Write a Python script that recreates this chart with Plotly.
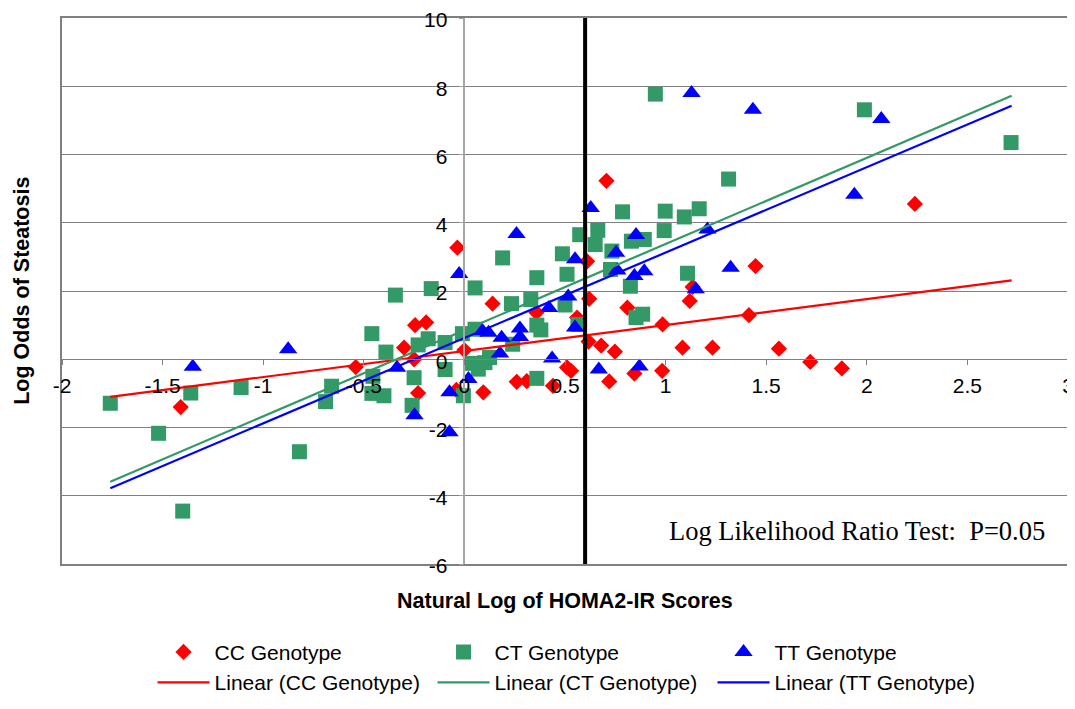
import plotly.graph_objects as go

# ---------------- data ----------------
cc_x = [-1.41, -0.54, -0.30, -0.25, -0.245, -0.19, -0.23, -0.035, -0.04, 0.00,
        0.094, 0.14, 0.26, 0.31, 0.358, 0.44, 0.51, 0.53, 0.56, 0.61,
        0.62, 0.617, 0.68, 0.748, 0.706, 0.72, 0.81, 0.845, 0.983, 0.985,
        1.084, 1.12, 1.134, 1.233, 1.414, 1.447, 1.563, 1.719, 1.876, 2.239]
cc_y = [-1.40, -0.23, 0.34, 0.00, 1.00, 1.08, -0.99, 3.27, -0.90, 0.27,
        -0.97, 1.63, -0.66, -0.64, 1.37, -0.78, -0.24, -0.34, 1.22, 2.87,
        1.77, 0.52, 0.40, 0.22, 5.23, -0.65, 1.51, -0.42, -0.34, 1.02,
        0.34, 1.71, 2.12, 0.34, 1.29, 2.73, 0.31, -0.08, -0.27, 4.55]

ct_x = [-1.76, -1.52, -1.40, -1.36, -1.11, -0.82, -0.66, -0.69, -0.46, -0.39,
        -0.455, -0.46, -0.40, -0.343, -0.25, -0.26, -0.165, -0.23, -0.18, -0.096,
        -0.01, 0.053, -0.096, -0.005, 0.036, 0.069, 0.102, 0.125, 0.053, 0.19,
        0.234, 0.33, 0.36, 0.24, 0.36, 0.36, 0.38, 0.50, 0.51, 0.487,
        0.564, 0.573, 0.65, 0.663, 0.726, 0.733, 0.786, 0.825, 0.83, 0.894,
        0.853, 0.886, 0.949, 0.993, 0.998, 1.093, 1.167, 1.109, 1.313, 1.988,
        2.717]
ct_y = [-1.29, -2.17, -4.45, -0.99, -0.83, -2.71, -0.79, -1.24, 0.75, 0.21,
        -0.50, -1.00, -1.07, 1.88, -0.54, -1.35, 2.07, 0.42, 0.60, 0.49,
        0.75, 0.88, -0.30, -1.07, -0.12, -0.29, -0.10, 0.05, 2.09, 2.97,
        1.63, 1.75, 2.39, 0.44, -0.56, 1.00, 0.86, 1.59, 2.49, 3.09,
        1.02, 3.65, 3.36, 3.78, 2.63, 3.17, 4.32, 2.14, 3.46, 3.51,
        1.22, 1.32, 7.77, 3.77, 4.34, 4.17, 4.41, 2.52, 5.28, 7.31,
        6.35]

tt_x = [-1.35, -0.876, -0.335, -0.248, -0.074, -0.074, -0.026, 0.02, 0.09, 0.12,
        0.185, 0.177, 0.276, 0.276, 0.259, 0.42, 0.436, 0.516, 0.55, 0.55,
        0.628, 0.668, 0.754, 0.76, 0.845, 0.894, 0.853, 0.87, 1.129, 1.15,
        1.208, 1.323, 1.434, 1.938, 2.072]
tt_y = [-0.22, 0.29, -0.25, -1.64, -0.97, -2.14, 2.50, -0.58, 0.83, 0.78,
        0.63, 0.17, 0.90, 0.65, 3.67, 1.50, 0.02, 1.84, 0.93, 2.93,
        4.43, -0.30, 3.12, 2.60, 2.44, 2.58, 3.64, -0.21, 7.80, 2.05,
        3.80, 2.68, 7.31, 4.82, 7.04]

# linear trend lines (end points)
trend_x = [-1.76, 2.72]
cc_trend_y = [-1.10, 2.31]
ct_trend_y = [-3.59, 7.72]
tt_trend_y = [-3.78, 7.43]

cutoff_x = 0.6

x_ticks = [-2, -1.5, -1, -0.5, 0, 0.5, 1, 1.5, 2, 2.5, 3]
x_tick_labels = ["-2", "-1.5", "-1", "-0.5", "0", "0.5", "1", "1.5", "2", "2.5", "3"]
y_ticks = [-6, -4, -2, 0, 2, 4, 6, 8, 10]
y_tick_labels = ["-6", "-4", "-2", "0", "2", "4", "6", "8", "10"]

x_range = [-2, 3]
y_range = [-6, 10]

# ---------------- styling ----------------
RED = "#FF0000"
GREEN = "#339966"
BLUE = "#0000FF"
SANS = "Liberation Sans, Arial, sans-serif"
SERIF = "Liberation Serif, Times New Roman, serif"

fig = go.Figure()

fig.add_trace(go.Scatter(x=cc_x, y=cc_y, mode="markers", name="CC Genotype",
                         marker=dict(symbol="diamond", size=12.5, color=RED)))
fig.add_trace(go.Scatter(x=ct_x, y=ct_y, mode="markers", name="CT Genotype",
                         marker=dict(symbol="square", size=15, color=GREEN)))
fig.add_trace(go.Scatter(x=tt_x, y=tt_y, mode="markers", name="TT Genotype",
                         marker=dict(symbol="triangle-up", size=16, color=BLUE)))

fig.add_trace(go.Scatter(x=trend_x, y=cc_trend_y, mode="lines", name="Linear (CC Genotype)",
                         line=dict(color=RED, width=2.2)))
fig.add_trace(go.Scatter(x=trend_x, y=ct_trend_y, mode="lines", name="Linear (CT Genotype)",
                         line=dict(color=GREEN, width=2.2)))
fig.add_trace(go.Scatter(x=trend_x, y=tt_trend_y, mode="lines", name="Linear (TT Genotype)",
                         line=dict(color=BLUE, width=2.2)))

# empty helper traces so the crossing axes (through the origin) are drawn
fig.add_trace(go.Scatter(x=[None], y=[None], xaxis="x2", yaxis="y", showlegend=False,
                         hoverinfo="skip", mode="markers"))
fig.add_trace(go.Scatter(x=[None], y=[None], xaxis="x", yaxis="y2", showlegend=False,
                         hoverinfo="skip", mode="markers"))

tickfont = dict(family=SANS, size=21, color="black")

# the page body adds an 8px offset, so the figure is 8px smaller than the window
fig.update_layout(
    template="none",
    width=1067, height=701,
    margin=dict(l=54, r=7, t=10, b=144),
    plot_bgcolor="white", paper_bgcolor="white",
    showlegend=True,
    xaxis=dict(range=x_range, showgrid=False, zeroline=False, showticklabels=False,
               ticks="", showline=True, mirror=True, linecolor="#808080", linewidth=2,
               automargin=False),
    yaxis=dict(range=y_range, tickvals=y_ticks, showgrid=True, gridcolor="#808080",
               gridwidth=1, zeroline=False, showticklabels=False, ticks="",
               showline=True, mirror=True, linecolor="#808080", linewidth=2,
               automargin=False),
    xaxis2=dict(overlaying="x", anchor="free",
                position=(0 - y_range[0]) / (y_range[1] - y_range[0]),
                range=x_range, tickmode="array", tickvals=x_ticks, ticktext=x_tick_labels,
                ticks="outside", ticklen=5, tickcolor="#808080", tickwidth=1,
                showline=True, linecolor="#808080", linewidth=1,
                showgrid=False, zeroline=False, tickfont=tickfont, side="bottom",
                ticklabelstandoff=3, ticklabeloverflow="allow", automargin=False),
    yaxis2=dict(overlaying="y", anchor="free",
                position=(0 - x_range[0]) / (x_range[1] - x_range[0]),
                range=y_range, tickmode="array", tickvals=y_ticks, ticktext=y_tick_labels,
                ticks="outside", ticklen=5, tickcolor="#a0a0a0", tickwidth=1,
                showline=True, linecolor="#a6a6a6", linewidth=1.5,
                showgrid=False, zeroline=False, tickfont=tickfont, side="left",
                ticklabelstandoff=7, ticklabelshift=2, ticklabeloverflow="allow",
                automargin=False),
    legend=dict(orientation="h", x=0.090, xanchor="left", y=-0.252, yanchor="bottom",
                font=dict(family=SANS, size=21, color="black"),
                itemwidth=52, entrywidth=213, entrywidthmode="pixels",
                bgcolor="rgba(0,0,0,0)", traceorder="normal"),
    shapes=[dict(type="line", xref="x", yref="y", x0=cutoff_x, x1=cutoff_x,
                 y0=y_range[0], y1=y_range[1], line=dict(color="black", width=4),
                 layer="above")],
    annotations=[
        dict(text="<b>Natural Log of HOMA2-IR Scores</b>", xref="paper", yref="paper",
             x=0.5, y=-0.068, xanchor="center", yanchor="middle", showarrow=False,
             font=dict(family=SANS, size=21.5, color="black")),
        dict(text="<b>Log Odds of Steatosis</b>", xref="paper", yref="paper",
             x=-0.04, y=0.5, xanchor="center", yanchor="middle", textangle=-90,
             showarrow=False, font=dict(family=SANS, size=21.5, color="black")),
        dict(text="Log Likelihood Ratio Test:\u00a0 P=0.05", xref="paper", yref="paper",
             x=0.979, y=0.06, xanchor="right", yanchor="middle", showarrow=False,
             font=dict(family=SERIF, size=26.5, color="black")),
    ],
)

fig.write_html("out.html")
